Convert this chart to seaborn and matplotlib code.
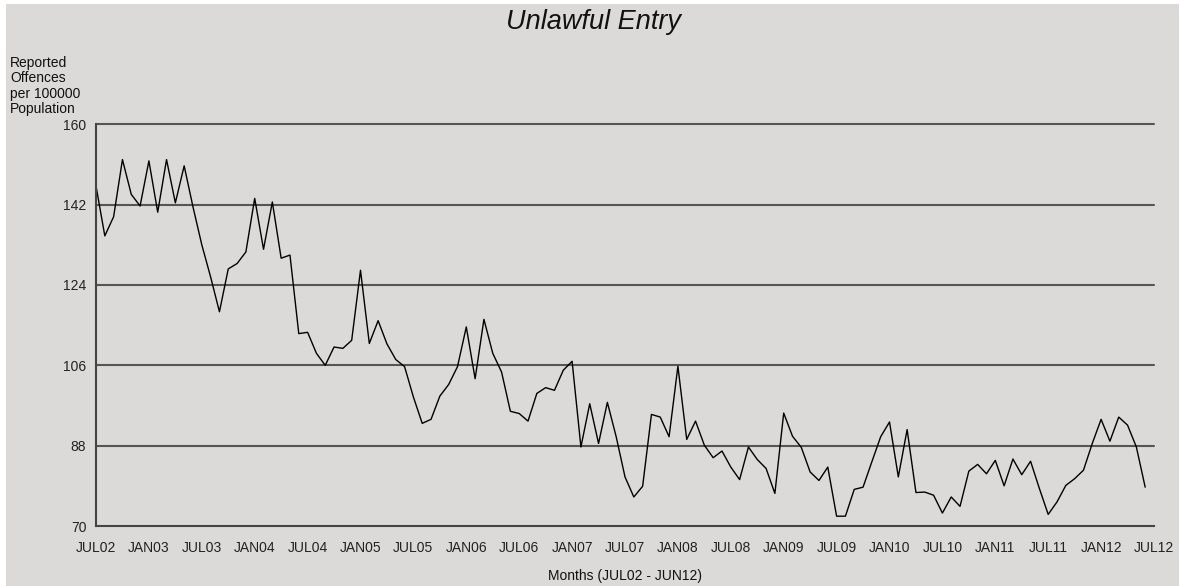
import numpy as np
import pandas as pd
import matplotlib
matplotlib.use("Agg")
import matplotlib.pyplot as plt
import seaborn as sns


# === Data: monthly offences per 100000 population, by financial year ===
fy_02_03 = [146.2, 135.0, 139.3, 152.1, 144.3, 141.7, 151.8, 140.3, 152.1, 142.4, 150.7, 141.5]
fy_03_04 = [133.0, 125.8, 118.0, 127.6, 128.8, 131.4, 143.4, 132.0, 142.6, 130.0, 130.7, 113.1]
fy_04_05 = [113.4, 108.7, 106.0, 110.1, 109.8, 111.6, 127.3, 110.9, 116.0, 110.8, 107.3, 105.7]
fy_05_06 = [98.9, 93.0, 93.9, 99.1, 101.7, 105.7, 114.6, 103.0, 116.3, 108.7, 104.5, 95.7]
fy_06_07 = [95.2, 93.5, 99.7, 101.0, 100.4, 104.9, 106.9, 87.7, 97.4, 88.5, 97.7, 90.0]
fy_07_08 = [81.0, 76.5, 78.9, 95.0, 94.4, 90.0, 105.8, 89.4, 93.5, 88.1, 85.3, 86.8]
fy_08_09 = [83.2, 80.4, 87.7, 84.9, 82.9, 77.3, 95.3, 90.1, 87.6, 82.1, 80.2, 83.2]
fy_09_10 = [72.2, 72.2, 78.2, 78.7, 84.4, 90.0, 93.3, 81.0, 91.6, 77.5, 77.6, 76.9]
fy_10_11 = [72.9, 76.5, 74.4, 82.3, 83.8, 81.7, 84.7, 79.0, 85.0, 81.5, 84.5, 78.4]
fy_11_12 = [72.6, 75.4, 79.1, 80.6, 82.5, 88.5, 93.9, 89.0, 94.4, 92.6, 87.7, 78.7]

tick_labels = [
    "JUL02", "JAN03", "JUL03", "JAN04", "JUL04", "JAN05", "JUL05",
    "JAN06", "JUL06", "JAN07", "JUL07", "JAN08", "JUL08", "JAN09",
    "JUL09", "JAN10", "JUL10", "JAN11", "JUL11", "JAN12", "JUL12",
]
y_ticks = [70, 88, 106, 124, 142, 160]

values = (fy_02_03 + fy_03_04 + fy_04_05 + fy_05_06 + fy_06_07
          + fy_07_08 + fy_08_09 + fy_09_10 + fy_10_11 + fy_11_12)
df = pd.DataFrame({"month": np.arange(len(values)), "rate": values})

# === Style ===
BG = "#dbdad9"
sns.set_style("white")
plt.rcParams["font.family"] = ["Liberation Sans", "DejaVu Sans"]

fig = plt.figure(figsize=(11.8, 5.86), dpi=100, facecolor="white")
# grey panel inside a thin white border
fig.patches.append(plt.Rectangle((6 / 1180, 0), 1 - 7 / 1180, 1 - 4 / 586,
                                 transform=fig.transFigure, facecolor=BG,
                                 edgecolor="none", zorder=-10))
ax = fig.add_axes([96 / 1180, 1 - 526 / 586, (1154 - 96) / 1180, (526 - 124.3) / 586])
ax.set_facecolor(BG)

sns.lineplot(data=df, x="month", y="rate", ax=ax, color="black", linewidth=1.0)

ax.set_xlim(0, 120)
ax.set_ylim(70, 160)
ax.set_yticks(y_ticks)
ax.set_yticklabels([str(v) for v in y_ticks], fontsize=10, color="#222222")
ax.set_xticks(np.arange(0, 121, 6))
ax.set_xticklabels(tick_labels, fontsize=10, color="#222222")
ax.set_xticks(np.arange(3, 121, 6), minor=True)
ax.tick_params(axis="x", which="major", direction="out", length=5, width=1.2,
               color="#444444", pad=6)
ax.tick_params(axis="x", which="minor", direction="out", length=3, width=1.2,
               color="#444444")
ax.tick_params(axis="y", direction="out", length=4, width=1.2, color="#444444", pad=3)

for y in y_ticks[1:]:
    ax.axhline(y, color="#555555", linewidth=1.5, zorder=0, clip_on=False)

for side in ["top", "right"]:
    ax.spines[side].set_visible(False)
for side in ["left", "bottom"]:
    ax.spines[side].set_color("#444444")
    ax.spines[side].set_linewidth(1.5)

ax.set_xlabel("Months (JUL02 - JUN12)", fontsize=10, color="#111111", labelpad=10)
ax.set_ylabel("")

fig.text(0.503, 0.962, "Unlawful Entry", fontsize=19.5, style="italic",
         ha="center", va="center", color="#111111")
fig.text(10 / 1180, 1 - 56 / 586, "Reported\nOffences\nper 100000\nPopulation",
         fontsize=10, ha="left", va="top", linespacing=1.12, color="#111111")

fig.savefig("out.png", dpi=100, facecolor="white")
